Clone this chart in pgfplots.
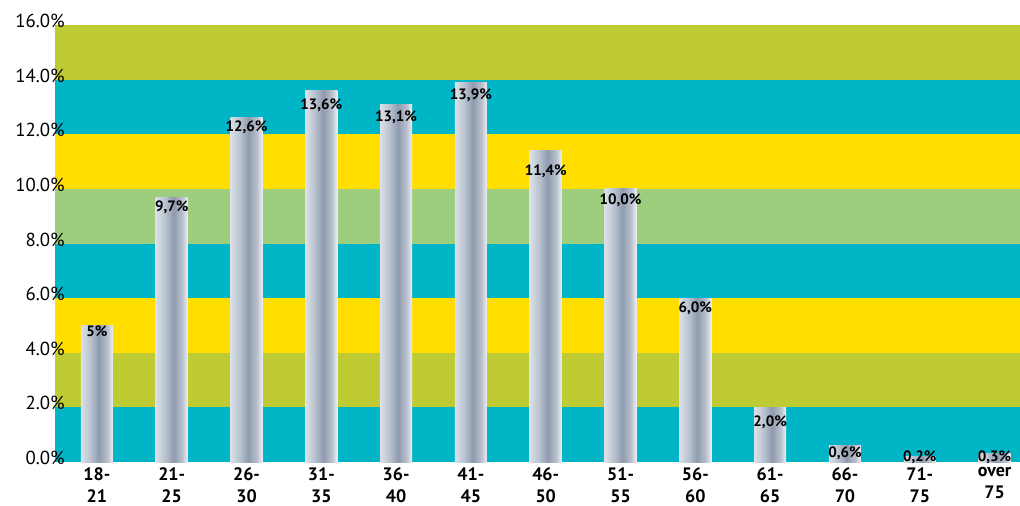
\documentclass[border=0pt]{standalone}
\usepackage{pgfplots}
\pgfplotsset{compat=1.18}
\usepackage{fontspec}
\setmainfont{PT Sans}
\usetikzlibrary{calc}
\definecolor{bteal}{HTML}{00B5C5}
\definecolor{bolive}{HTML}{BFCB33}
\definecolor{byellow}{HTML}{FFDE00}
\definecolor{bgreen}{HTML}{9DCE7E}
\definecolor{sA}{rgb}{0.86,0.88,0.91}
\definecolor{sB}{rgb}{0.72,0.76,0.81}
\definecolor{sC}{rgb}{0.56,0.61,0.68}
\definecolor{sD}{rgb}{0.72,0.75,0.80}
\definecolor{sE}{rgb}{0.93,0.94,0.96}
\pgfdeclarehorizontalshading{barshade}{100bp}{%
 color(0bp)=(sA);
 color(25bp)=(sA);
 color(40bp)=(sB);
 color(53bp)=(sC);
 color(66bp)=(sD);
 color(75bp)=(sE);
 color(100bp)=(sE)}
\pgfplotsset{onebar/.style={ybar, bar width=16pt, bar shift=0pt, draw=none, shading=barshade}}
\newcommand\onebar[2]{\addplot[onebar] coordinates {(#1,#2)};}
\begin{document}
\begin{tikzpicture}
\begin{axis}[
  scale only axis,
  width=482.5pt, height=218.5pt,
  xmin=-0.56, xmax=12.34, ymin=0, ymax=16,
  axis line style={draw=none},
  axis on top,
  clip=false,
  ytick={0,2,...,16},
  xtick={0,...,12},
  xticklabels={{18-\\21},{21-\\25},{26-\\30},{31-\\35},{36-\\40},{41-\\45},{46-\\50},{51-\\55},{56-\\60},{61-\\65},{66-\\70},{71-\\75},{over\\75}},
  major tick length=0pt,
  tick style={draw=none},
  /pgf/number format/assume math mode=true,
  yticklabel={\pgfmathprintnumber[fixed,fixed zerofill,precision=1]{\tick}\%},
  yticklabel style={anchor=east, inner sep=0pt, xshift=5pt, yshift=2pt, font=\fontsize{9.4}{10}\selectfont},
  xticklabel style={anchor=north, align=center, inner sep=0pt, yshift=-2.5pt, font=\bfseries\fontsize{9}{11}\selectfont},
]
\addplot[fill=bteal, draw=none] coordinates {(-0.56,0) (12.34,0) (12.34,2) (-0.56,2)} -- cycle;
\addplot[fill=bolive, draw=none] coordinates {(-0.56,2) (12.34,2) (12.34,4) (-0.56,4)} -- cycle;
\addplot[fill=byellow, draw=none] coordinates {(-0.56,4) (12.34,4) (12.34,6) (-0.56,6)} -- cycle;
\addplot[fill=bteal, draw=none] coordinates {(-0.56,6) (12.34,6) (12.34,8) (-0.56,8)} -- cycle;
\addplot[fill=bgreen, draw=none] coordinates {(-0.56,8) (12.34,8) (12.34,10) (-0.56,10)} -- cycle;
\addplot[fill=byellow, draw=none] coordinates {(-0.56,10) (12.34,10) (12.34,12) (-0.56,12)} -- cycle;
\addplot[fill=bteal, draw=none] coordinates {(-0.56,12) (12.34,12) (12.34,14) (-0.56,14)} -- cycle;
\addplot[fill=bolive, draw=none] coordinates {(-0.56,14) (12.34,14) (12.34,16) (-0.56,16)} -- cycle;
\onebar{0}{5.0}
\onebar{1}{9.7}
\onebar{2}{12.6}
\onebar{3}{13.6}
\onebar{4}{13.1}
\onebar{5}{13.9}
\onebar{6}{11.4}
\onebar{7}{10.0}
\onebar{8}{6.0}
\onebar{9}{2.0}
\onebar{10}{0.6}
\onebar{11}{0.2}
\onebar{12}{0.3}
\addplot[draw=none, mark=none, nodes near coords, point meta=explicit symbolic,
  nodes near coords style={anchor=center, inner sep=0pt, font=\bfseries\fontsize{7.5}{8}\selectfont}]
  coordinates {
  (0,4.80) [5\%]
  (1,9.34) [9,7\%]
  (2,12.27) [12,6\%]
  (3,13.08) [13,6\%]
  (4,12.64) [13,1\%]
  (5,13.44) [13,9\%]
  (6,10.66) [11,4\%]
  (7,9.60) [10,0\%]
  (8,5.64) [6,0\%]
  (9,1.47) [2,0\%]
  (10,0.33) [0,6\%]
  (11,0.18) [0,2\%]
  (12,0.18) [0,3\%]
  };
\end{axis}
\pgfresetboundingbox
\path ($(current axis.south west)+(-27.5pt,-21.5pt)$) rectangle ($(current axis.north east)+(0,12.5pt)$);
\end{tikzpicture}
\end{document}
